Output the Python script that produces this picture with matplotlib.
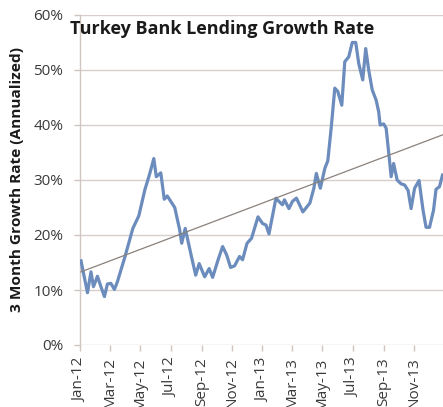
import matplotlib
matplotlib.use("Agg")
import matplotlib.pyplot as plt
import matplotlib.dates as mdates
import matplotlib.ticker as mticker
import pandas as pd

title = "Turkey Bank Lending Growth Rate"
ylabel = "3 Month Growth Rate (Annualized)"

dates = ["2012-01-03", "2012-01-16", "2012-01-23", "2012-01-28", "2012-02-05", "2012-02-12",
         "2012-02-19", "2012-02-25", "2012-03-03", "2012-03-10", "2012-03-16", "2012-03-31",
         "2012-04-16", "2012-04-28", "2012-05-10", "2012-05-20", "2012-05-28", "2012-06-02",
         "2012-06-11", "2012-06-18", "2012-06-24", "2012-07-09", "2012-07-19", "2012-07-23",
         "2012-07-30", "2012-08-10", "2012-08-20", "2012-08-27", "2012-09-07", "2012-09-16",
         "2012-09-23", "2012-10-04", "2012-10-13", "2012-10-21", "2012-10-29", "2012-11-06",
         "2012-11-16", "2012-11-22", "2012-12-01", "2012-12-10", "2012-12-23", "2013-01-01",
         "2013-01-08", "2013-01-14", "2013-01-28", "2013-02-03", "2013-02-10", "2013-02-14",
         "2013-02-23", "2013-03-02", "2013-03-10", "2013-03-23", "2013-04-06", "2013-04-14",
         "2013-04-19", "2013-04-27", "2013-05-06", "2013-05-12", "2013-05-19", "2013-05-26",
         "2013-06-01", "2013-06-09", "2013-06-15", "2013-06-23", "2013-06-30", "2013-07-07",
         "2013-07-13", "2013-07-21", "2013-07-27", "2013-08-02", "2013-08-09", "2013-08-17",
         "2013-08-22", "2013-08-25", "2013-09-01", "2013-09-06", "2013-09-12", "2013-09-16",
         "2013-09-21", "2013-09-28", "2013-10-06", "2013-10-13", "2013-10-20", "2013-10-26",
         "2013-11-02", "2013-11-11", "2013-11-19", "2013-11-25", "2013-12-02", "2013-12-10",
         "2013-12-15", "2013-12-22", "2013-12-28"]
growth = [15.3, 9.5, 13.3, 10.6, 12.5, 10.6,
          8.8, 11.1, 11.2, 10.1, 11.5, 16.0,
          21.2, 23.5, 28.2, 31.2, 33.9, 30.6,
          31.3, 26.5, 27.1, 25.0, 20.9, 18.5,
          21.2, 16.7, 12.7, 14.8, 12.4, 13.9,
          12.3, 15.5, 17.9, 16.4, 14.1, 14.4,
          16.1, 15.5, 18.5, 19.4, 23.3, 22.1,
          21.8, 20.2, 26.7, 26.1, 25.5, 26.4,
          24.8, 26.1, 26.7, 24.2, 25.8, 28.5,
          31.2, 28.5, 32.1, 33.5, 39.7, 46.7,
          46.1, 43.6, 51.5, 52.4, 55.0, 55.0,
          51.2, 48.2, 53.9, 50.0, 46.4, 44.5,
          42.4, 40.0, 40.2, 39.4, 34.2, 30.6,
          33.0, 30.0, 29.3, 29.1, 28.1, 24.8,
          28.5, 29.9, 24.5, 21.4, 21.4, 24.5,
          28.3, 28.8, 30.9]

trend_dates = ["2012-01-03", "2013-12-28"]
trend_values = [13.3, 38.2]

yticks = [0, 10, 20, 30, 40, 50, 60]

W, H = 443, 407
fig = plt.figure(figsize=(W / 100, H / 100), dpi=100)
ax = fig.add_axes([80 / W, 1 - 345 / H, (W - 80) / W, 330 / H])

x = pd.to_datetime(dates)
ax.plot(x, growth, color="#6b8cbc", lw=2.3, solid_joinstyle="round", zorder=3)
ax.plot(pd.to_datetime(trend_dates), trend_values, color="#8a817c", lw=0.9, zorder=4)

ax.set_ylim(0, 60)
ax.set_yticks(yticks)
ax.yaxis.set_major_formatter(mticker.FuncFormatter(lambda v, p: f"{v:.0f}%"))
ax.set_xlim(pd.Timestamp("2012-01-01"), pd.Timestamp("2013-12-29"))
ax.xaxis.set_major_locator(mdates.MonthLocator(bymonth=[1, 3, 5, 7, 9, 11]))
ax.xaxis.set_major_formatter(mdates.DateFormatter("%b-%y"))

grid_c = "#d6cfcb"
ax.grid(axis="y", color=grid_c, lw=1.0, zorder=0)
for s in ["top", "right", "bottom"]:
    ax.spines[s].set_visible(False)
ax.spines["left"].set_color("#cfc6c1")
ax.spines["left"].set_linewidth(1.0)
ax.tick_params(axis="both", colors="#cfc6c1", length=4.5, width=1.0,
               labelcolor="#3a3a3a", labelsize=11)
ax.tick_params(axis="y", pad=7.5)
ax.tick_params(axis="x", rotation=90, pad=4.5)
for lbl in ax.get_xticklabels() + ax.get_yticklabels():
    lbl.set_family("Open Sans")

fig.text(70 / W, 1 - 34 / H, title, fontsize=13, fontweight="bold",
         family="Open Sans", color="#1a1a1a", va="baseline", ha="left")
fig.text(17 / W, 1 - 180 / H, ylabel, fontsize=11.1, fontweight="bold",
         family="Open Sans", color="#1a1a1a", rotation=90, va="center", ha="center")

fig.savefig("out.png", dpi=100)
